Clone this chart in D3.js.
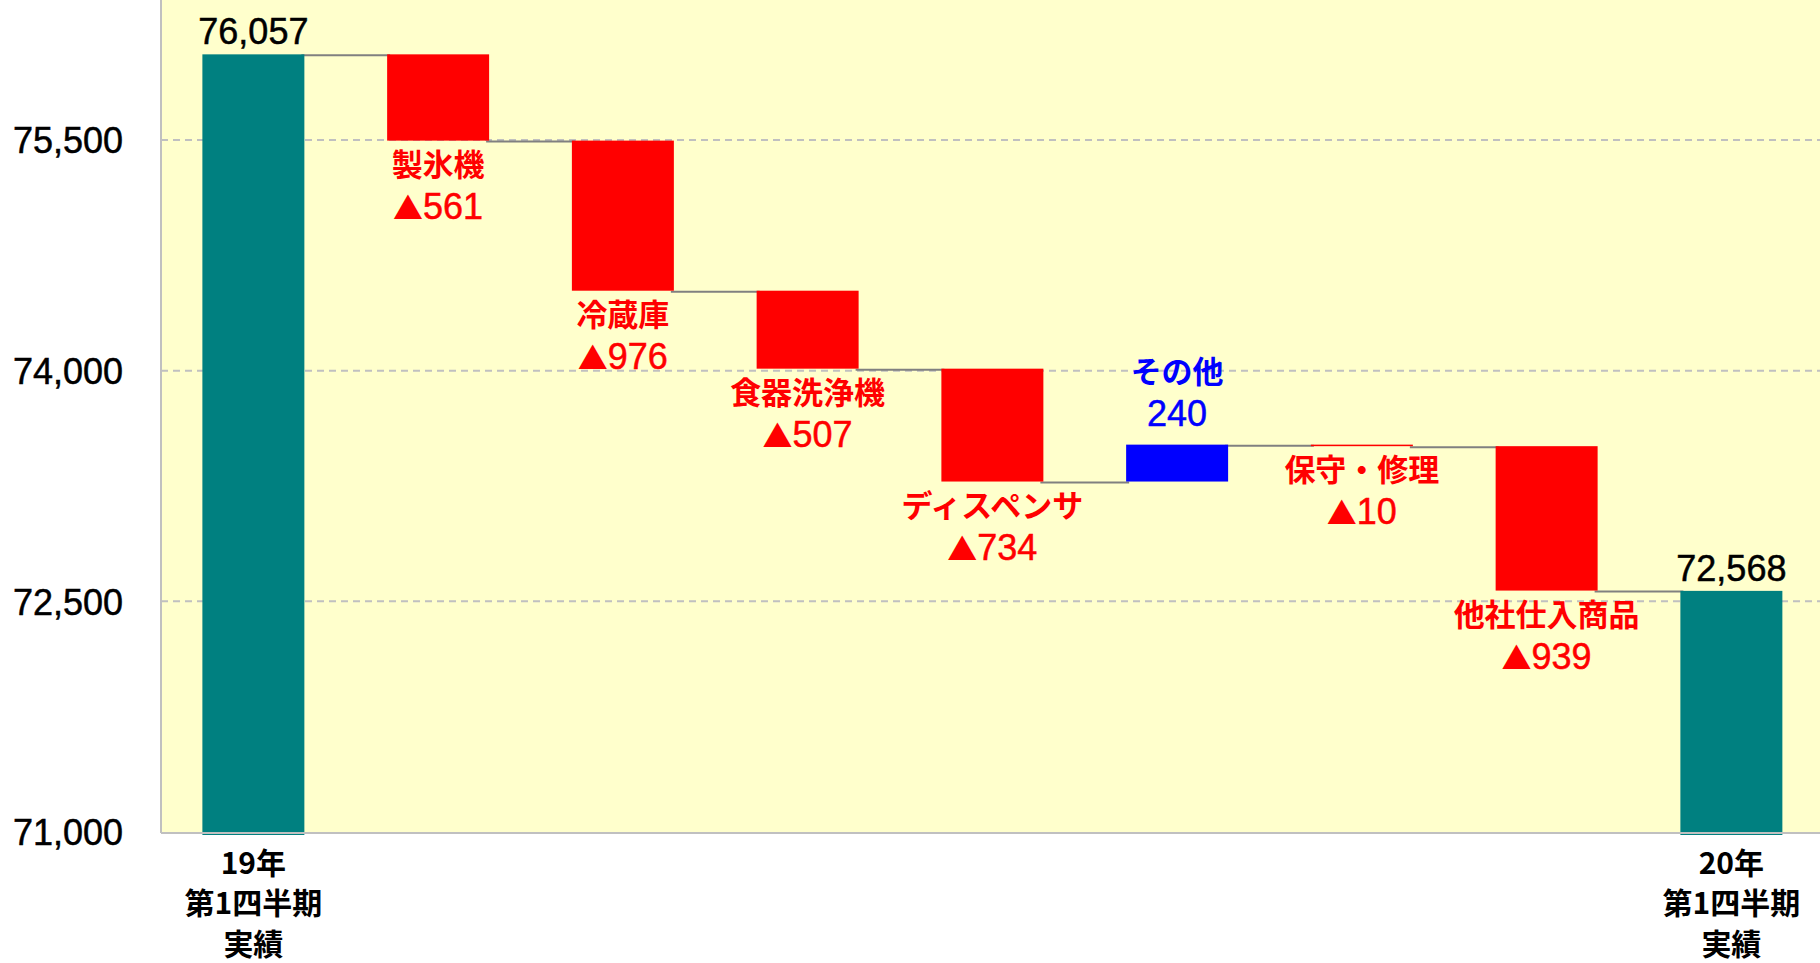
<!DOCTYPE html>
<html>
<head>
<meta charset="utf-8">
<script src="https://cdn.jsdelivr.net/npm/d3@7"></script>
<style>
  html, body { margin: 0; padding: 0; background: #ffffff; }
  svg { display: block; }
</style>
</head>
<body>
<svg id="chart" width="1820" height="963"></svg>
<script>
// ---- data ----
const categories = ["19年第1四半期実績", "製氷機", "冷蔵庫", "食器洗浄機", "ディスペンサ", "その他", "保守・修理", "他社仕入商品", "20年第1四半期実績"];
const values = [76057, -561, -976, -507, -734, 240, -10, -939, 72568];
const kinds = ["total", "delta", "delta", "delta", "delta", "delta", "delta", "delta", "total"];
const barNames = ["", "製氷機", "冷蔵庫", "食器洗浄機", "ディスペンサ", "その他", "保守・修理", "他社仕入商品", ""];
const axisLabelLines = [["19年", "第1四半期", "実績"], [], [], [], [], [], [], [], ["20年", "第1四半期", "実績"]];
const yTicks = [71000, 72500, 74000, 75500];
const yBase = 71000;
const yMax = 76500;

// ---- layout ----
const W = 1820, H = 963;
const plotLeft = 161, plotBottom = 832;
const step = 184.75;
const svg = d3.select("#chart");

const y = d3.scaleLinear().domain([yBase, yMax]).range([plotBottom, plotBottom - (yMax - yBase) * (692 / 4500)]);
const x = d3.scaleBand().domain(categories)
  .range([plotLeft, plotLeft + step * categories.length])
  .paddingInner(0.448).paddingOuter(0.224);

// compute waterfall segments
let running = 0;
const segs = categories.map((c, i) => {
  const v = values[i];
  let start, end;
  if (kinds[i] === "total") { start = yBase; end = v; running = v; }
  else { start = running; end = running + v; running = end; }
  return { cat: c, v, kind: kinds[i], start, end, name: barNames[i], lines: axisLabelLines[i] };
});

const colorFor = d => d.kind === "total" ? "#008080" : (d.v < 0 ? "#FF0000" : "#0000FF");
const numFont = "'Liberation Sans', Arial, sans-serif";
const cjkFont = "'Noto Sans CJK JP', 'Noto Sans CJK SC', sans-serif";
const fmt = d3.format(",");

// plot background
svg.append("rect").attr("x", plotLeft).attr("y", 0)
  .attr("width", W - plotLeft).attr("height", plotBottom)
  .attr("fill", "#FFFFCC");

// gridlines
svg.append("g").selectAll("line").data(yTicks.filter(t => t !== yBase)).join("line")
  .attr("x1", plotLeft).attr("x2", W)
  .attr("y1", d => y(d)).attr("y2", d => y(d))
  .attr("stroke", "#C0C0C0").attr("stroke-width", 2).attr("stroke-dasharray", "7,5");

// y axis labels via d3 axis
const yAxis = d3.axisLeft(y).tickValues(yTicks).tickFormat(fmt).tickSize(0).tickPadding(38);
const gy = svg.append("g").attr("transform", `translate(${plotLeft},0)`).call(yAxis);
gy.select(".domain").remove();
gy.selectAll("text")
  .attr("font-family", numFont)
  .attr("font-size", 36).attr("fill", "#000").attr("stroke", "#000").attr("stroke-width", 0.5)
  .attr("dy", "0.36em");

// connectors
const conns = segs.slice(0, -1).map((d, i) => ({ x1: x(d.cat) + x.bandwidth(), x2: x(categories[i + 1]), yv: d.end }));
svg.append("g").selectAll("line").data(conns).join("line")
  .attr("x1", d => d.x1 - 3).attr("x2", d => d.x2 + 3)
  .attr("y1", d => y(d.yv) + 1).attr("y2", d => y(d.yv) + 1)
  .attr("stroke", "#808080").attr("stroke-width", 2);

// bars
svg.append("g").selectAll("rect").data(segs).join("rect")
  .attr("x", d => x(d.cat))
  .attr("width", x.bandwidth())
  .attr("y", d => y(Math.max(d.start, d.end)))
  .attr("height", d => Math.max(1.5, Math.abs(y(d.start) - y(d.end)) + (d.kind === "total" ? 3 : 0)))
  .attr("fill", colorFor);

// plot borders
svg.append("line").attr("x1", plotLeft).attr("x2", plotLeft).attr("y1", 0).attr("y2", plotBottom + 1)
  .attr("stroke", "#C0C0C0").attr("stroke-width", 2);
svg.append("line").attr("x1", plotLeft).attr("x2", W).attr("y1", plotBottom + 1).attr("y2", plotBottom + 1)
  .attr("stroke", "#C0C0C0").attr("stroke-width", 2);

// total value labels
svg.append("g").selectAll("text").data(segs.filter(d => d.kind === "total")).join("text")
  .attr("x", d => x(d.cat) + x.bandwidth() / 2)
  .attr("y", d => y(d.end) - 23)
  .attr("dy", "0.36em")
  .attr("text-anchor", "middle")
  .attr("font-family", numFont).attr("font-size", 36).attr("fill", "#000")
  .attr("stroke", "#000").attr("stroke-width", 0.5)
  .text(d => fmt(d.v));

// delta labels
const deltas = segs.filter(d => d.kind === "delta");
const lg = svg.append("g");
deltas.forEach(d => {
  const cx = x(d.cat) + x.bandwidth() / 2;
  const col = colorFor(d);
  let nameY, valY;
  if (d.v < 0) { const b = y(d.end); nameY = b + 24; valY = b + 65; }
  else { const t = y(d.end); valY = t - 32; nameY = t - 73; }
  lg.append("text").attr("x", cx).attr("y", nameY).attr("dy", "0.36em")
    .attr("text-anchor", "middle").attr("font-family", cjkFont).attr("font-weight", 700)
    .attr("font-size", 31).attr("fill", col).text(d.name);
  const vt = lg.append("text").attr("x", cx).attr("y", valY).attr("dy", "0.36em")
    .attr("text-anchor", "middle").attr("font-family", numFont)
    .attr("font-size", 36).attr("fill", col).attr("stroke", col).attr("stroke-width", 0.5);
  if (d.v < 0) {
    vt.append("tspan").attr("font-family", cjkFont).attr("font-size", 30).attr("stroke-width", 0).text("▲");
    vt.append("tspan").text(fmt(Math.abs(d.v)));
  } else {
    vt.text(fmt(d.v));
  }
});

// category axis labels (only for totals)
const cg = svg.append("g");
segs.forEach(d => {
  const cx = x(d.cat) + x.bandwidth() / 2;
  d.lines.forEach((ln, j) => {
    cg.append("text").attr("x", cx).attr("y", 863 + j * 40.5).attr("dy", "0.35em")
      .attr("text-anchor", "middle").attr("font-family", cjkFont).attr("font-weight", 700)
      .attr("font-size", 30).attr("fill", "#000").text(ln);
  });
});
</script>
</body>
</html>
